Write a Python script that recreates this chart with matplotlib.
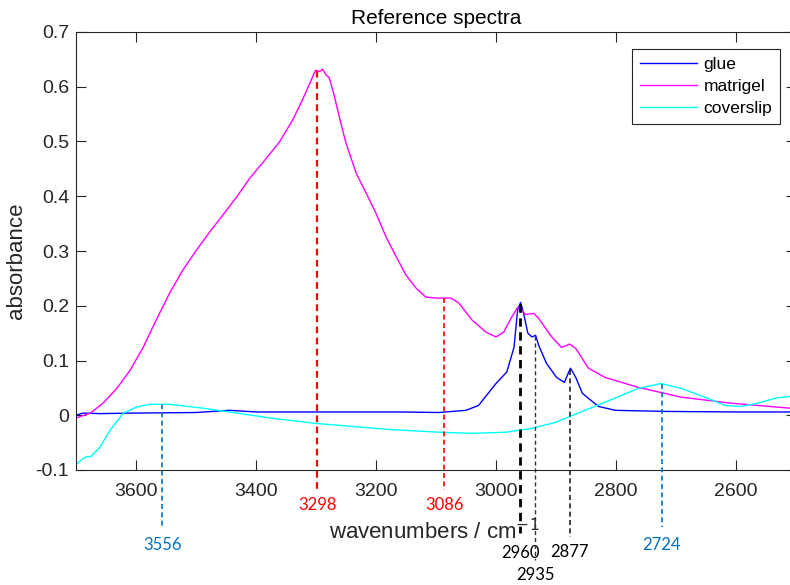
import numpy as np
import matplotlib.pyplot as plt
from matplotlib.transforms import blended_transform_factory

# spectra (wavenumber / cm^-1, absorbance)
glue_wn = [3700, 3688, 3660, 3600, 3500, 3444, 3400, 3300, 3161, 3095, 3050, 3029, 3000,
           2982, 2970, 2964, 2959, 2954, 2947, 2940, 2934, 2929, 2916, 2899, 2886, 2876,
           2867, 2856, 2846, 2829, 2801, 2718, 2600, 2500]
glue_abs = [0.000, 0.004, 0.003, 0.004, 0.005, 0.009, 0.006, 0.006, 0.006, 0.005, 0.009, 0.018,
            0.058, 0.079, 0.124, 0.192, 0.206, 0.186, 0.150, 0.143, 0.146, 0.128, 0.095,
            0.069, 0.060, 0.086, 0.069, 0.040, 0.031, 0.016, 0.009, 0.007, 0.006, 0.006]

matrigel_wn = [3700, 3676, 3655, 3632, 3610, 3588, 3565, 3544, 3522, 3499, 3477, 3455, 3432,
               3411, 3389, 3361, 3339, 3323, 3308, 3301, 3294, 3289, 3283, 3278, 3269,
               3261, 3250, 3233, 3216, 3200, 3183, 3166, 3150, 3133, 3117, 3100, 3075,
               3062, 3040, 3017, 3000, 2987, 2974, 2964, 2957, 2951, 2937, 2929, 2907,
               2891, 2877, 2867, 2846, 2818, 2763, 2691, 2608, 2500]
matrigel_abs = [-0.005, 0.004, 0.022, 0.049, 0.082, 0.124, 0.177, 0.223, 0.265, 0.302, 0.335,
                0.366, 0.399, 0.432, 0.461, 0.499, 0.539, 0.575, 0.612, 0.630, 0.628, 0.632,
                0.621, 0.617, 0.581, 0.544, 0.497, 0.442, 0.405, 0.369, 0.325, 0.289, 0.256,
                0.232, 0.216, 0.214, 0.214, 0.205, 0.174, 0.152, 0.143, 0.152, 0.179, 0.197,
                0.192, 0.184, 0.186, 0.177, 0.143, 0.124, 0.130, 0.122, 0.086, 0.069, 0.051,
                0.033, 0.022, 0.012]

coverslip_wn = [3700, 3688, 3681, 3676, 3660, 3643, 3621, 3599, 3577, 3544, 3489, 3432, 3377,
                3299, 3245, 3178, 3095, 3040, 2984, 2940, 2901, 2863, 2818, 2763, 2725,
                2691, 2652, 2618, 2592, 2564, 2535, 2500]
coverslip_abs = [-0.090, -0.079, -0.075, -0.076, -0.058, -0.027, 0.004, 0.015, 0.020, 0.020,
                 0.013, 0.004, -0.005, -0.015, -0.020, -0.026, -0.031, -0.033, -0.031,
                 -0.024, -0.013, 0.004, 0.024, 0.049, 0.058, 0.049, 0.033, 0.018, 0.016,
                 0.022, 0.031, 0.036]

# marked bands: position, which spectrum, colour, line width, line bottom, label y (axes units)
band_wn = [3556, 3298, 3086, 2960, 2935, 2877, 2724]
band_src = ["coverslip", "matrigel", "matrigel", "glue", "glue", "glue", "coverslip"]
band_color = ["#0072BD", "#FF0000", "#FF0000", "#000000", "#333333", "#222222", "#0072BD"]
band_text = ["#0070C0", "#FF0000", "#FF0000", "#000000", "#000000", "#000000", "#0070C0"]
band_lw = [1.2, 1.6, 1.2, 2.0, 1.0, 1.2, 1.2]
band_bottom = [-0.13, -0.046, -0.046, -0.144, -0.205, -0.153, -0.13]
band_label_y = [-0.171, -0.080, -0.080, -0.19, -0.24, -0.187, -0.171]

plt.rcParams["font.family"] = ["Liberation Sans", "DejaVu Sans"]
fig = plt.figure(figsize=(7.9, 5.85), dpi=100)
ax = fig.add_axes([76 / 790, 1 - 470 / 585, 720 / 790, 438 / 585])

ax.plot(glue_wn, glue_abs, color="#0000FF", lw=1.0, label="glue")
ax.plot(matrigel_wn, matrigel_abs, color="#FF00FF", lw=1.0, label="matrigel")
ax.plot(coverslip_wn, coverslip_abs, color="#00FFFF", lw=1.0, label="coverslip")

spectra = {
    "glue": (glue_wn, glue_abs),
    "matrigel": (matrigel_wn, matrigel_abs),
    "coverslip": (coverslip_wn, coverslip_abs),
}
trans = blended_transform_factory(ax.transData, ax.transAxes)
for wn, src, col, tcol, lw, bot, ly in zip(band_wn, band_src, band_color, band_text,
                                           band_lw, band_bottom, band_label_y):
    xs, ys = spectra[src]
    top = np.interp(wn, xs[::-1], ys[::-1])
    top_ax = (top + 0.1) / 0.8
    ax.plot([wn, wn], [top_ax, bot], transform=trans, color=col, lw=lw,
            ls=(0, (3, 2)), clip_on=False, zorder=5)
    ax.text(wn, ly, str(wn), transform=trans, ha="center", va="center",
            color=tcol, fontsize=12, family=["Lato", "DejaVu Sans"])

ax.set_xlim(3700, 2500)
ax.set_ylim(-0.1, 0.7)
ax.set_xticks([3600, 3400, 3200, 3000, 2800, 2600])
ax.set_yticks(np.arange(-0.1, 0.71, 0.1))
ax.set_yticklabels(["-0.1", "0", "0.1", "0.2", "0.3", "0.4", "0.5", "0.6", "0.7"])
ax.tick_params(direction="in", length=7, width=0.8, colors="#262626",
               top=True, right=True, labelsize=14)
ax.tick_params(axis="x", pad=9)
ax.tick_params(axis="y", pad=5)
for sp in ax.spines.values():
    sp.set_color("#262626")
    sp.set_linewidth(0.8)

ax.set_title("Reference spectra", fontsize=15, pad=6)
ax.set_ylabel("absorbance", fontsize=16, color="#262626")
ax.set_xlabel("wavenumbers / cm$^{-1}$", fontsize=16, color="#262626")
ax.yaxis.set_label_coords(-0.082, 0.477)
ax.yaxis.label.set_va("center")
ax.xaxis.set_label_coords(0.497, -0.158)
ax.xaxis.label.set_va("baseline")

leg = ax.legend(loc="upper right", fontsize=12.5, fancybox=False, framealpha=1,
                edgecolor="#262626", handlelength=3.3, handletextpad=0.35,
                borderaxespad=0, labelspacing=0.4, borderpad=0.45)
leg.set_bbox_to_anchor((780 / 790, 1 - 49 / 585), transform=fig.transFigure)
leg.get_frame().set_linewidth(0.8)

fig.savefig("out.png", dpi=100)
